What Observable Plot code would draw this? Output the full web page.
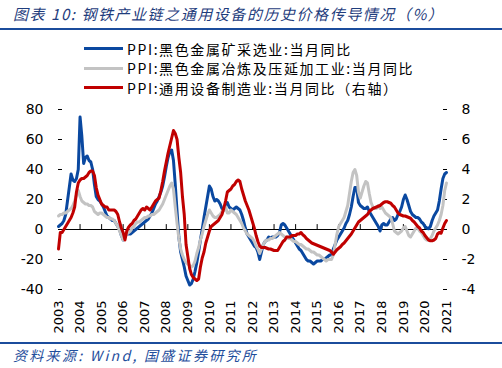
<!DOCTYPE html>
<html><head><meta charset="utf-8">
<script src="https://cdn.jsdelivr.net/npm/d3@7"></script>
<script src="https://cdn.jsdelivr.net/npm/@observablehq/plot@0.6"></script>
<style>
html,body{margin:0;padding:0;background:#fff}
body{width:502px;height:368px;position:relative;overflow:hidden;font-family:"Noto Sans CJK SC","Noto Sans",sans-serif}
#title{position:absolute;left:13px;top:3px;font-size:15px;font-style:italic;color:#1f3d7d;letter-spacing:1.55px;white-space:nowrap;line-height:22px}
.rule{position:absolute;left:0;width:502px;height:2px;background:#1b4c9c}
#legend{position:absolute;left:84px;top:39px}
.item{display:flex;align-items:center;height:19.5px;font-size:14px;letter-spacing:1.6px;white-space:nowrap;color:#000}
.sw{width:39px;height:3px;margin-right:4px}
#chart{position:absolute;left:0;top:100px}
#source{position:absolute;left:13px;top:345px;font-size:14px;font-style:italic;color:#1f4e9c;letter-spacing:2.3px;white-space:nowrap;line-height:20px}
</style></head>
<body>
<div id="title">图表 10:  钢铁产业链之通用设备的历史价格传导情况（%）</div>
<div class="rule" style="top:28px"></div>
<div id="legend"></div>
<div id="chart"></div>
<div class="rule" style="top:342px"></div>
<div id="source">资料来源:  Wind,  国盛证券研究所</div>
<script>
const seriesNames = ["PPI:黑色金属矿采选业:当月同比", "PPI:黑色金属冶炼及压延加工业:当月同比", "PPI:通用设备制造业:当月同比（右轴）"];
const seriesColors = ["#0a48a0", "#c3c3c3", "#c00000"];
const startYear = 2003;
const yearTicks = [2003,2004,2005,2006,2007,2008,2009,2010,2011,2012,2013,2014,2015,2016,2017,2018,2019,2020,2021];
const leftTicks = [-40,-20,0,20,40,60,80];

// monthly, Jan 2003 .. Jan 2021 (left axis, %)
const mining = [
  2,3,4,6,10,19,28,37,33,32,34,40,
  75,62,44,48,49,46,45,40,30,22,20,19,
  17,15,12,9,8,7,6,6,4,2,0,-4,
  -7,-4,-3,-3,-3,-2,-1,0,1,2,3,4,
  5,6,7,9,11,14,17,19,22,25,29,35,
  42,48,52,53,46,30,12,-5,-15,-20,-25,-31,
  -34,-37,-36,-33,-28,-22,-15,-7,0,8,15,22,
  29,27,22,19,20,19,17,14,13,17,18,15,
  14,13,14,15,14,13,10,6,1,-3,-5,-7,
  -9,-11,-12,-15,-20,-15,-10,-8,-7,-5,-6,-5,
  -5,-5,-4,-2,3,4,3,1,-1,-3,-5,-7,
  -9,-11,-13,-14,-16,-18,-20,-21,-21,-22,-23,-22,
  -21,-21,-21,-20,-20,-19,-18,-17,-17,-13,-10,-7,
  -5,-3,-1,1,4,6,10,15,22,28,28,18,
  16,15,14,14,15,12,10,8,6,4,2,-1,
  3,4,3,3,5,7,8,6,7,10,12,15,
  20,23,20,16,12,10,9,8,8,7,5,4,
  2,1,0.5,2,6,9,11,13,19,27,34,37,
  38
];
const smelting = [
  9,10,10,11,11,12,13,14,16,19,23,26,
  22,19,18,17,17,16,16,15,12,11,10,11,
  11,10,9,8,8,7,7,6,4,2,-1,-4,
  -7,-5,-3,-2,-1,1,2,4,5,5,6,7,
  8,8,9,9,10,10,11,12,13,15,17,20,
  23,26,29,31,27,15,4,-6,-13,-17,-20,-22,
  -23,-24,-25,-24,-21,-16,-12,-7,-3,2,6,10,
  13,11,9,8,8,9,10,12,13,15,11,11,
  13,12,11,10,8,6,4,1,-1,-3,-4,-5,
  -6,-8,-11,-13,-16,-13,-10,-8,-7,-7,-6,-6,
  -5,-4,-3,-2,-3,-4,-5,-5,-6,-6,-7,-8,
  -8,-9,-10,-10,-11,-12,-13,-13,-14,-15,-15,-16,
  -17,-17,-18,-19,-20,-21,-20,-20,-20,-17,-10,-3,
  2,4,6,8,12,16,24,32,38,40,36,25,
  21,25,29,32,31,24,18,15,14,14,16,14,
  15,13,11,10,9,8,4,-1,-2,-3,-2,-1,
  1,2,-1,-4,-5,-3,-1,1,1,-1,-2,-4,
  -6,-7,-7,-6,-4,-1,1,3,6,10,16,26,
  31
];
// right axis, %
const equipment = [
  -1.3,-0.2,-0.2,0,0.2,0.4,0.6,0.8,1.1,1.5,2.5,3.1,
  3.3,3.4,3.4,3.5,3.6,3.8,3.9,3.9,3.6,2.8,2.3,2.0,
  1.7,1.6,1.5,1.5,1.3,1.3,1.3,1.3,1.2,1.0,0.5,0.1,
  -0.2,-0.7,-0.1,0.15,0.3,0.4,0.6,0.7,0.9,1.1,1.3,1.4,
  1.3,1.5,1.4,1.3,1.5,1.7,1.9,2.0,2.1,2.6,3.2,3.9,
  4.5,5.1,5.6,6.1,6.6,6.4,6.0,4.8,3.8,2.2,1.0,-1.0,
  -1.8,-2.6,-3.0,-3.2,-3.3,-3.4,-3.3,-2.5,-1.9,-1.5,-0.9,-0.5,
  -0.1,0.2,0.3,0.4,0.5,0.6,0.8,1.0,1.4,1.9,2.5,2.6,
  2.7,2.9,3.0,3.2,3.3,3.2,2.7,2.3,1.9,1.6,1.3,0.9,
  0.5,0.1,-0.4,-0.8,-1.1,-1.2,-1.2,-1.2,-1.25,-1.3,-1.3,-1.35,
  -1.4,-1.4,-1.4,-1.2,-1.0,-0.8,-0.7,-0.5,-0.5,-0.5,-0.4,-0.4,
  -0.4,-0.3,-0.3,-0.2,-0.35,-0.45,-0.6,-0.7,-0.8,-0.9,-0.95,-1.0,
  -1.05,-1.1,-1.15,-1.2,-1.25,-1.3,-1.35,-1.4,-1.5,-1.65,-1.5,-1.35,
  -1.25,-1.15,-1.0,-0.9,-0.75,-0.6,-0.45,-0.3,-0.1,0.1,0.3,0.5,
  0.6,0.7,0.8,0.9,1.0,1.2,1.3,1.4,1.45,1.5,1.55,1.6,
  1.7,1.8,1.85,1.85,1.8,1.75,1.6,1.5,1.3,1.1,1.0,0.95,
  0.9,0.9,0.85,0.8,0.75,0.6,0.5,0.35,0.2,0.1,-0.1,-0.2,
  -0.4,-0.55,-0.7,-0.75,-0.75,-0.7,-0.6,-0.3,-0.2,-0.25,0.1,0.4,
  0.6
];
const rightScaleRatio = 10; // left = right * 10

const rows = mining.map((v, i) => ({t: startYear + i / 12, mining: v, smelting: smelting[i], equipment: equipment[i]}));

// legend
const lg = document.getElementById("legend");
seriesNames.forEach((n, k) => {
  const it = document.createElement("div"); it.className = "item";
  const sw = document.createElement("span"); sw.className = "sw"; sw.style.background = seriesColors[k];
  const tx = document.createElement("span"); tx.textContent = n;
  it.appendChild(sw); it.appendChild(tx); lg.appendChild(it);
});

const tickShape = {draw(context, l) { context.moveTo(0, 0); context.lineTo(0, -l); }};

const chart = Plot.plot({
  width: 502, height: 240,
  marginLeft: 58, marginRight: 56, marginTop: 9, marginBottom: 51,
  x: {domain: [2003, 2021], label: null},
  y: {domain: [-40, 80], label: null},
  style: {fontFamily: "DejaVu Sans", fontSize: "14px", color: "#000", background: "transparent"},
  marks: [
    Plot.ruleY([0], {stroke: "#000", strokeWidth: 1}),
    Plot.vectorY(yearTicks.slice(1, -1), {x: d => d, y: () => 0, length: 5, anchor: "start", shape: tickShape, stroke: "#000", strokeWidth: 1}),
    Plot.axisY({anchor: "left", ticks: leftTicks, tickFormat: d => String(d), tickSize: -4, tickPadding: 19, line: true, label: null}),
    Plot.axisY({anchor: "right", ticks: leftTicks, tickFormat: d => String(d / rightScaleRatio), tickSize: -4, tickPadding: 19, line: true, label: null, textAnchor: "start"}),
    Plot.axisX({anchor: "bottom", ticks: yearTicks, tickFormat: d => String(d), tickSize: 0, tickRotate: -90, tickPadding: 11, fontSize: 13, label: null}),
    Plot.line(rows, {x: "t", y: "mining", stroke: seriesColors[0], strokeWidth: 3}),
    Plot.line(rows, {x: "t", y: "smelting", stroke: seriesColors[1], strokeWidth: 3}),
    Plot.line(rows, {x: "t", y: d => d.equipment * rightScaleRatio, stroke: seriesColors[2], strokeWidth: 3})
  ]
});
document.getElementById("chart").appendChild(chart);
</script>
</body></html>
